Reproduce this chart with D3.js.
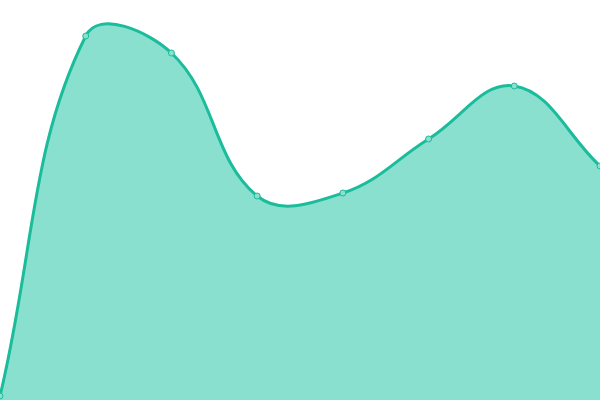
<!DOCTYPE html>
<html>
<head>
<meta charset="utf-8">
<script src="https://cdn.jsdelivr.net/npm/d3@7"></script>
<style>
  html, body { margin: 0; padding: 0; background: #fff; }
  svg { display: block; }
</style>
</head>
<body>
<svg width="600" height="400"></svg>
<script>
// data
var labels = ["A", "B", "C", "D", "E", "F", "G", "H"];
var values = [4, 364, 347, 204, 207, 261, 314, 234];

var width = 600, height = 400;
var svg = d3.select("svg");

var x = d3.scalePoint().domain(labels).range([0, width]);
var y = d3.scaleLinear().domain([0, 400]).range([height, 0]);

// spline like chart.js (tension 0.4), control points capped to the area
function splineCurve(context) {
  return {
    areaStart: function () { this._line = 0; },
    areaEnd: function () { this._line = NaN; },
    lineStart: function () { this._pts = []; },
    point: function (px, py) { this._pts.push([+px, +py]); },
    lineEnd: function () {
      var p = this._pts, n = p.length, t = 0.4, ctx = context;
      if (!n) return;
      var cps = p.map(function (cur, i) {
        var prev = p[i - 1] || cur, next = p[i + 1] || cur;
        var d01 = Math.hypot(cur[0] - prev[0], cur[1] - prev[1]);
        var d12 = Math.hypot(next[0] - cur[0], next[1] - cur[1]);
        var s01 = d01 / (d01 + d12), s12 = d12 / (d01 + d12);
        if (isNaN(s01)) s01 = 0;
        if (isNaN(s12)) s12 = 0;
        var fa = t * s01, fb = t * s12;
        var cap = function (v, lo, hi) { return Math.max(lo, Math.min(hi, v)); };
        return {
          prev: [cap(cur[0] - fa * (next[0] - prev[0]), 0, width), cap(cur[1] - fa * (next[1] - prev[1]), 0, height)],
          next: [cap(cur[0] + fb * (next[0] - prev[0]), 0, width), cap(cur[1] + fb * (next[1] - prev[1]), 0, height)]
        };
      });
      if (this._line) ctx.lineTo(p[0][0], p[0][1]);
      else ctx.moveTo(p[0][0], p[0][1]);
      for (var i = 1; i < n; i++) {
        ctx.bezierCurveTo(cps[i - 1].next[0], cps[i - 1].next[1], cps[i].prev[0], cps[i].prev[1], p[i][0], p[i][1]);
      }
      if (this._line) ctx.closePath();
      this._line = 1 - this._line;
    }
  };
}

var pts = labels.map(function (l, i) { return { label: l, value: values[i] }; });

var area = d3.area()
  .x(function (d) { return x(d.label); })
  .y0(y(0))
  .y1(function (d) { return y(d.value); })
  .curve(splineCurve);

var line = d3.line()
  .x(function (d) { return x(d.label); })
  .y(function (d) { return y(d.value); })
  .curve(splineCurve);

svg.append("path")
  .datum(pts)
  .attr("d", area)
  .attr("fill", "#89e0cf");

svg.append("path")
  .datum(pts)
  .attr("d", line)
  .attr("fill", "none")
  .attr("stroke", "#1abc9c")
  .attr("stroke-width", 3);

svg.selectAll("circle")
  .data(pts)
  .enter()
  .append("circle")
  .attr("cx", function (d) { return x(d.label); })
  .attr("cy", function (d) { return y(d.value); })
  .attr("r", 3)
  .attr("fill", "#89e0cf")
  .attr("stroke", "#1abc9c")
  .attr("stroke-width", 1);
</script>
</body>
</html>
